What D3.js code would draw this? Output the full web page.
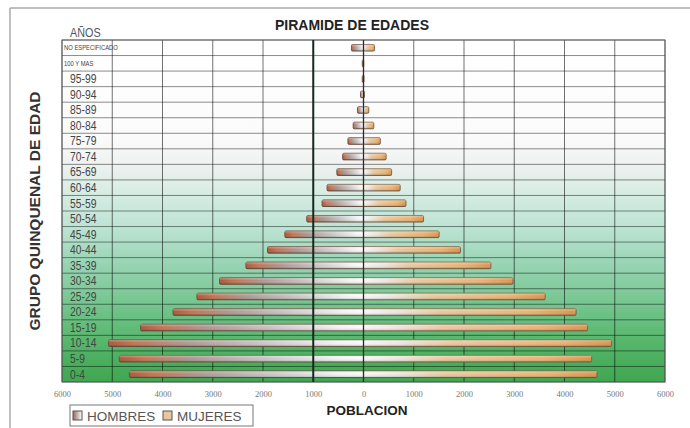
<!DOCTYPE html>
<html>
<head>
<meta charset="utf-8">
<script src="https://cdn.jsdelivr.net/npm/d3@7/dist/d3.min.js"></script>
<style>
  body { margin: 0; background: #fff; }
  text { font-family: "Liberation Sans", Arial, sans-serif; }
</style>
</head>
<body>
<div id="chart"></div>
<script>
// age groups, top of the pyramid first
var categories = ["NO ESPECIFICADO", "100 Y MAS", "95-99", "90-94", "85-89", "80-84",
  "75-79", "70-74", "65-69", "60-64", "55-59", "50-54", "45-49", "40-44", "35-39",
  "30-34", "25-29", "20-24", "15-19", "10-14", "5-9", "0-4"];

// population per group
var hombres = [240, 25, 25, 60, 120, 205, 310, 415, 530, 725, 825, 1130, 1565, 1910,
  2340, 2865, 3315, 3790, 4435, 5075, 4860, 4660];
var mujeres = [220, 5, 10, 20, 105, 205, 335, 450, 560, 730, 845, 1195, 1505, 1930,
  2535, 2975, 3615, 4230, 4460, 4935, 4540, 4645];

var xTicks = [-6000, -5000, -4000, -3000, -2000, -1000, 0, 1000, 2000, 3000, 4000, 5000, 6000];
var smallLabels = ["NO ESPECIFICADO", "100 Y MAS"];

var svgWidth = 690;
var svgHeight = 428;

var plot = { left: 62, right: 665, top: 40, bottom: 382 };

var svg = d3.select("#chart")
  .append("svg")
  .attr("width", svgWidth)
  .attr("height", svgHeight);

var defs = svg.append("defs");

// background: white on top, teal in the middle, green at the bottom
var bg = defs.append("linearGradient")
  .attr("id", "bgGrad")
  .attr("x1", 0).attr("y1", 0).attr("x2", 0).attr("y2", 1);
[[0, "#ffffff"], [0.28, "#fbfbfb"], [0.36, "#eff2f0"], [0.45, "#d6ece3"],
 [0.55, "#bce3d3"], [0.66, "#96d3b2"], [0.78, "#72c48c"], [0.9, "#52b466"], [1, "#3fa651"]]
  .forEach(function (s) {
    bg.append("stop").attr("offset", s[0]).attr("stop-color", s[1]);
  });

// men bars: brown at the outer end, silver toward zero
var gMen = defs.append("linearGradient").attr("id", "menGrad");
[[0, "#a8583a"], [0.1, "#c27452"], [0.3, "#ad9893"], [0.6, "#c9c6c6"], [0.9, "#f3f3f3"], [1, "#fafafa"]]
  .forEach(function (s) {
    gMen.append("stop").attr("offset", s[0]).attr("stop-color", s[1]);
  });

// women bars: silver at zero, tan to orange outward
var gWomen = defs.append("linearGradient").attr("id", "womenGrad");
[[0, "#f6f6f6"], [0.15, "#ece6e0"], [0.35, "#e9c9a2"], [0.8, "#e8b273"], [1, "#d8954f"]]
  .forEach(function (s) {
    gWomen.append("stop").attr("offset", s[0]).attr("stop-color", s[1]);
  });

// cylinder shine on top of the bars
var shine = defs.append("linearGradient")
  .attr("id", "shine")
  .attr("x1", 0).attr("y1", 0).attr("x2", 0).attr("y2", 1);
shine.append("stop").attr("offset", 0).attr("stop-color", "#fff").attr("stop-opacity", 0.35);
shine.append("stop").attr("offset", 0.45).attr("stop-color", "#fff").attr("stop-opacity", 0);
shine.append("stop").attr("offset", 1).attr("stop-color", "#000").attr("stop-opacity", 0.22);

// scales
var x = d3.scaleLinear().domain([-6000, 6000]).range([plot.left, plot.right]);
var y = d3.scaleBand().domain(categories).range([plot.top, plot.bottom]).padding(0);
var bw = y.bandwidth();
var bh = 6.6;

// outer frame
svg.append("line").attr("x1", 10).attr("x2", 690).attr("y1", 8).attr("y2", 8)
  .attr("stroke", "#aaa").attr("stroke-width", 1.5);
svg.append("line").attr("x1", 10).attr("x2", 10).attr("y1", 8).attr("y2", 428)
  .attr("stroke", "#aaa").attr("stroke-width", 1.5);

// plot background
svg.append("rect")
  .attr("x", plot.left).attr("y", plot.top)
  .attr("width", plot.right - plot.left).attr("height", plot.bottom - plot.top)
  .attr("fill", "url(#bgGrad)");

// horizontal grid lines at band edges
var hLines = categories.map(function (c) { return y(c); }).concat([plot.bottom]);
svg.append("g").selectAll("line")
  .data(hLines)
  .enter().append("line")
  .attr("x1", plot.left).attr("x2", plot.right)
  .attr("y1", function (d) { return d; }).attr("y2", function (d) { return d; })
  .attr("stroke", "#000").attr("stroke-opacity", 0.45).attr("stroke-width", 1);

// vertical grid lines
svg.append("g").selectAll("line")
  .data(xTicks.filter(function (t) { return t !== 0 && t !== -1000; }))
  .enter().append("line")
  .attr("x1", function (d) { return x(d); }).attr("x2", function (d) { return x(d); })
  .attr("y1", plot.top).attr("y2", plot.bottom)
  .attr("stroke", "#000").attr("stroke-opacity", 0.55).attr("stroke-width", 1);

// plot border
svg.append("rect")
  .attr("x", plot.left).attr("y", plot.top)
  .attr("width", plot.right - plot.left).attr("height", plot.bottom - plot.top)
  .attr("fill", "none").attr("stroke", "#666").attr("stroke-width", 1);

// bars
var bars = svg.append("g");
categories.forEach(function (c, i) {
  var yy = y(c) + (bw - bh) / 2;
  var x0 = x(0);
  var xm = x(-hombres[i]);
  var xw = x(mujeres[i]);
  bars.append("rect")
    .attr("x", xm).attr("y", yy).attr("width", x0 - xm).attr("height", bh)
    .attr("rx", 1.2)
    .attr("fill", "url(#menGrad)")
    .attr("stroke", "#6b4a3c").attr("stroke-width", 0.9);
  bars.append("rect")
    .attr("x", xm).attr("y", yy).attr("width", x0 - xm).attr("height", bh)
    .attr("fill", "url(#shine)");
  bars.append("rect")
    .attr("x", x0).attr("y", yy).attr("width", xw - x0).attr("height", bh)
    .attr("rx", 1.2)
    .attr("fill", "url(#womenGrad)")
    .attr("stroke", "#7a5a3c").attr("stroke-width", 0.9);
  bars.append("rect")
    .attr("x", x0).attr("y", yy).attr("width", xw - x0).attr("height", bh)
    .attr("fill", "url(#shine)");
});

// the dark lines at -1000 and 0 sit over the bars
svg.append("line")
  .attr("x1", x(-1000)).attr("x2", x(-1000)).attr("y1", plot.top).attr("y2", plot.bottom)
  .attr("stroke", "#15281c").attr("stroke-width", 2);
svg.append("line")
  .attr("x1", x(0)).attr("x2", x(0)).attr("y1", plot.top).attr("y2", plot.bottom)
  .attr("stroke", "#2a2a2a").attr("stroke-width", 1.3);

// group labels inside the first column, squeezed like a narrow font
svg.append("g").selectAll("text")
  .data(categories)
  .enter().append("text")
  .attr("transform", function (d) {
    var small = smallLabels.indexOf(d) >= 0;
    return "translate(" + (small ? 64 : 70) + "," + (y(d) + bw / 2) + ") scale(" + (small ? 0.9 : 0.86) + ",1)";
  })
  .attr("dy", "0.36em")
  .style("font-size", function (d) { return smallLabels.indexOf(d) >= 0 ? "6.5px" : "12px"; })
  .attr("fill", "#444")
  .text(function (d) { return d; });

svg.append("text")
  .attr("transform", "translate(70,37) scale(0.9,1)")
  .style("font-size", "12px")
  .attr("fill", "#555")
  .text("AÑOS");

// x axis tick labels
var xAxis = d3.axisBottom(x)
  .tickValues(xTicks)
  .tickSize(0)
  .tickFormat(function (d) { return Math.abs(d); });
var axisG = svg.append("g")
  .attr("transform", "translate(0," + (plot.bottom + 6) + ")")
  .call(xAxis);
axisG.select(".domain").remove();
axisG.selectAll("text")
  .style("font-family", "'Liberation Serif', serif")
  .style("font-size", "8.5px")
  .attr("fill", "#777");

// titles
svg.append("text")
  .attr("x", 352).attr("y", 30)
  .attr("text-anchor", "middle")
  .style("font-size", "14px").style("font-weight", "bold")
  .attr("fill", "#222")
  .text("PIRAMIDE DE EDADES");

svg.append("text")
  .attr("x", 367).attr("y", 415)
  .attr("text-anchor", "middle")
  .style("font-size", "13.5px").style("font-weight", "bold")
  .attr("fill", "#222")
  .text("POBLACION");

svg.append("text")
  .attr("transform", "translate(40,211) rotate(-90)")
  .attr("text-anchor", "middle")
  .style("font-size", "15.5px").style("font-weight", "bold")
  .attr("fill", "#333")
  .text("GRUPO QUINQUENAL DE EDAD");

// legend
var legend = svg.append("g");
legend.append("rect")
  .attr("x", 70).attr("y", 405).attr("width", 183).attr("height", 21)
  .attr("fill", "#fff").attr("stroke", "#777").attr("stroke-width", 1);
var legendItems = [
  { label: "HOMBRES", x: 73, fill: "url(#menGrad)" },
  { label: "MUJERES", x: 163, fill: "#e8c7a0" }
];
legendItems.forEach(function (d) {
  legend.append("rect")
    .attr("x", d.x).attr("y", 411).attr("width", 9).attr("height", 9)
    .attr("fill", d.fill).attr("stroke", "#555").attr("stroke-width", 1);
  legend.append("text")
    .attr("x", d.x + 14).attr("y", 420.5)
    .style("font-size", "13.5px")
    .attr("fill", "#555")
    .text(d.label);
});
</script>
</body>
</html>
